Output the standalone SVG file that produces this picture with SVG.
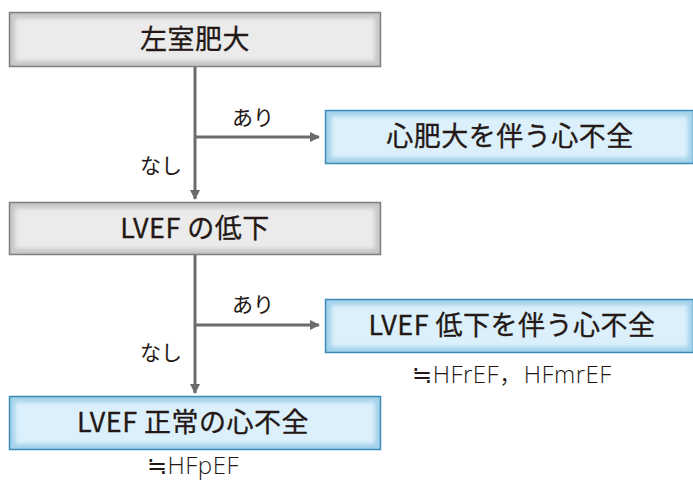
<svg xmlns="http://www.w3.org/2000/svg" width="693" height="480" viewBox="0 0 693 480">
<style>
.gray{fill:#ebebeb;stroke:#808080;stroke-width:2.5}
.blue{fill:#dcf0fb;stroke:#3d8db8;stroke-width:2.5}
.glowg{fill:none;stroke:#c4c4c4;stroke-width:6;filter:url(#blur)}
.glowb{fill:none;stroke:#9fd0ea;stroke-width:6;filter:url(#blur)}
.t{font-family:"Noto Sans CJK JP","Noto Sans",sans-serif;font-weight:400;font-size:27px;fill:#231815;stroke:#231815;stroke-width:0.3;text-anchor:middle;letter-spacing:0.5px}
.s{font-family:"Noto Sans CJK JP","Noto Sans",sans-serif;font-weight:400;font-size:21px;fill:#231815}
.n{font-family:"Open Sans","Noto Sans CJK JP",sans-serif;font-weight:300;font-size:24px;fill:#231815;text-anchor:middle;letter-spacing:0.5px}
.ln{stroke:#6b6b6b;stroke-width:3;fill:none}
</style>
<defs>
<filter id="blur" x="-5%" y="-20%" width="110%" height="140%"><feGaussianBlur stdDeviation="2"/></filter>
<marker id="ah" viewBox="0 0 10 10" refX="9" refY="5" markerWidth="10" markerHeight="10" markerUnits="userSpaceOnUse" orient="auto"><path d="M0,0 L10,5 L0,10 Z" fill="#6b6b6b"/></marker>
<clipPath id="c1"><rect x="10" y="13" width="370" height="53"/></clipPath>
<clipPath id="c2"><rect x="326" y="111" width="367" height="52"/></clipPath>
<clipPath id="c3"><rect x="10" y="203" width="370" height="51"/></clipPath>
<clipPath id="c4"><rect x="326" y="300" width="367" height="52"/></clipPath>
<clipPath id="c5"><rect x="10" y="397" width="370" height="52"/></clipPath>
</defs>
<g id="connectors">
<line class="ln" x1="195" y1="66" x2="195" y2="199" marker-end="url(#ah)"/>
<line class="ln" x1="195" y1="137" x2="319" y2="137" marker-end="url(#ah)"/>
<line class="ln" x1="195" y1="254" x2="195" y2="393" marker-end="url(#ah)"/>
<line class="ln" x1="195" y1="325" x2="319" y2="325" marker-end="url(#ah)"/>
<text class="s" x="232" y="125">あり</text>
<text class="s" x="140" y="173">なし</text>
<text class="s" x="232" y="312">あり</text>
<text class="s" x="140" y="360">なし</text>
</g>
<g id="node1">
<rect class="gray" x="10" y="13" width="370" height="53"/>
<rect class="glowg" x="12" y="15" width="366" height="49" clip-path="url(#c1)"/>
<text class="t" x="195" y="49">左室肥大</text>
</g>
<g id="node2">
<rect class="blue" x="326" y="111" width="367" height="52"/>
<rect class="glowb" x="328" y="113" width="363" height="48" clip-path="url(#c2)"/>
<text class="t" x="510" y="146">心肥大を伴う心不全</text>
</g>
<g id="node3">
<rect class="gray" x="10" y="203" width="370" height="51"/>
<rect class="glowg" x="12" y="205" width="366" height="47" clip-path="url(#c3)"/>
<text class="t" x="195" y="238">LVEF の低下</text>
</g>
<g id="node4">
<rect class="blue" x="326" y="300" width="367" height="52"/>
<rect class="glowb" x="328" y="302" width="363" height="48" clip-path="url(#c4)"/>
<text class="t" x="512" y="335">LVEF 低下を伴う心不全</text>
<text class="n" x="512" y="383">≒HFrEF，HFmrEF</text>
</g>
<g id="node5">
<rect class="blue" x="10" y="397" width="370" height="52"/>
<rect class="glowb" x="12" y="399" width="366" height="48" clip-path="url(#c5)"/>
<text class="t" x="193" y="432">LVEF 正常の心不全</text>
<text class="n" x="193" y="474">≒HFpEF</text>
</g>
</svg>
